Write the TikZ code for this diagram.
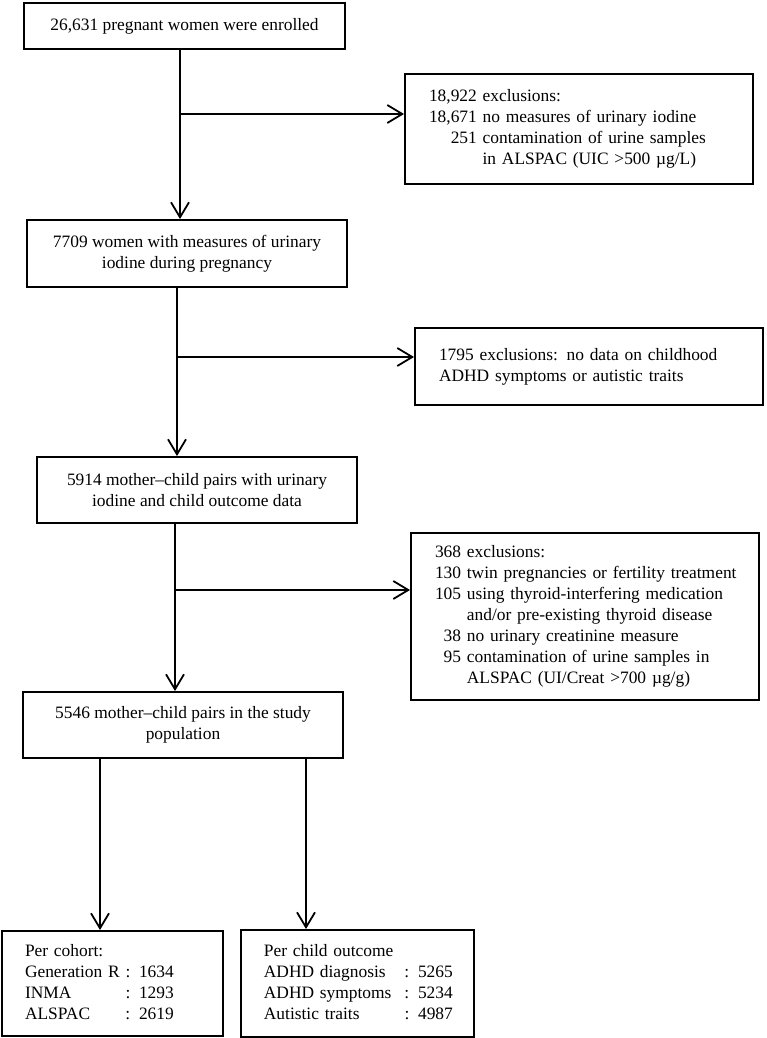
\documentclass[tikz,border=0pt]{standalone}
\usepackage{fontspec}
\setmainfont{Liberation Serif}
\usetikzlibrary{arrows.meta, positioning}
\tikzstyle{stepbox} = [rectangle, draw=black, line width=1.9pt, minimum width=320pt, minimum height=66pt, inner sep=0pt, align=center]
\tikzstyle{exclbox} = [rectangle, draw=black, line width=1.9pt, inner xsep=24pt, inner ysep=0pt, text width=300pt, align=left]
\tikzstyle{countbox} = [rectangle, draw=black, line width=1.9pt, inner xsep=23pt, inner ysep=0pt, align=left]
\tikzstyle{arrow} = [line width=1.8pt, ->, >={Straight Barb[length=15pt,width=18pt]}]

\begin{document}
\begin{tikzpicture}[x=1pt, y=-1pt, font=\fontsize{17.4}{21}\selectfont]
\useasboundingbox (0,0) rectangle (766,1038);

\node (enrol) [stepbox, minimum width=321pt, minimum height=46pt] at (184.5,26) {26,631 pregnant women were enrolled};
\node (excl1) [exclbox, minimum height=110pt] at (579,129) {\noindent\begin{tabular}{@{}r@{ }l@{}}
\multicolumn{2}{@{}l@{}}{18,922 exclusions:}\\
18,671 & no measures of urinary iodine\\
251 & contamination of urine samples\\
 & in ALSPAC (UIC >500 µg/L)
\end{tabular}};

\node (iodine) [stepbox, minimum height=67pt] at (187,253.5) {7709 women with measures of urinary\\ iodine during pregnancy};
\node (excl2) [exclbox, minimum height=77pt] at (589,366.5) {1795 exclusions: no data on childhood\\ ADHD symptoms or autistic traits};

\node (pairs) [stepbox] at (197,490) {5914 mother--child pairs with urinary\\ iodine and child outcome data};
\node (excl3) [exclbox, minimum height=167pt] at (585,616.5) {\noindent\begin{tabular}{@{}r@{ }l@{}}
368 & exclusions:\\
130 & twin pregnancies or fertility treatment\\
105 & using thyroid-interfering medication\\
 & and/or pre-existing thyroid disease\\
38 & no urinary creatinine measure\\
95 & contamination of urine samples in\\
 & ALSPAC (UI/Creat >700 µg/g)
\end{tabular}};

\node (study) [stepbox] at (183,725) {5546 mother--child pairs in the study\\ population};

\node (cohort) [countbox, text width=175pt, minimum height=105pt] at (112.5,983.5) {\noindent\begin{tabular}{@{}l@{ }l@{}}
\multicolumn{2}{@{}l@{}}{Per cohort:}\\
Generation R & : 1634\\
INMA & : 1293\\
ALSPAC & : 2619
\end{tabular}};
\node (outcome) [countbox, text width=187pt, minimum height=107pt, right=16pt of cohort] {\noindent\begin{tabular}{@{}l@{\hspace{13pt}}l@{}}
\multicolumn{2}{@{}l@{}}{Per child outcome}\\
ADHD diagnosis & : 5265\\
ADHD symptoms & : 5234\\
Autistic traits & : 4987
\end{tabular}};

\coordinate (b1) at (180,114);
\coordinate (b2) at (177,357);
\coordinate (b3) at (175,590);
\coordinate (c1) at (100,840);
\coordinate (c2) at (306,840);

\draw [arrow] (b1 |- enrol.south) -- (b1 |- iodine.north);
\draw [arrow] (b1) -- (b1 -| excl1.west);
\draw [arrow] (b2 |- iodine.south) -- (b2 |- pairs.north);
\draw [arrow] (b2) -- (b2 -| excl2.west);
\draw [arrow] (b3 |- pairs.south) -- (b3 |- study.north);
\draw [arrow] (b3) -- (b3 -| excl3.west);
\draw [arrow] (c1 |- study.south) -- (c1 |- cohort.north);
\draw [arrow] (c2 |- study.south) -- (c2 |- outcome.north);

\end{tikzpicture}
\end{document}
